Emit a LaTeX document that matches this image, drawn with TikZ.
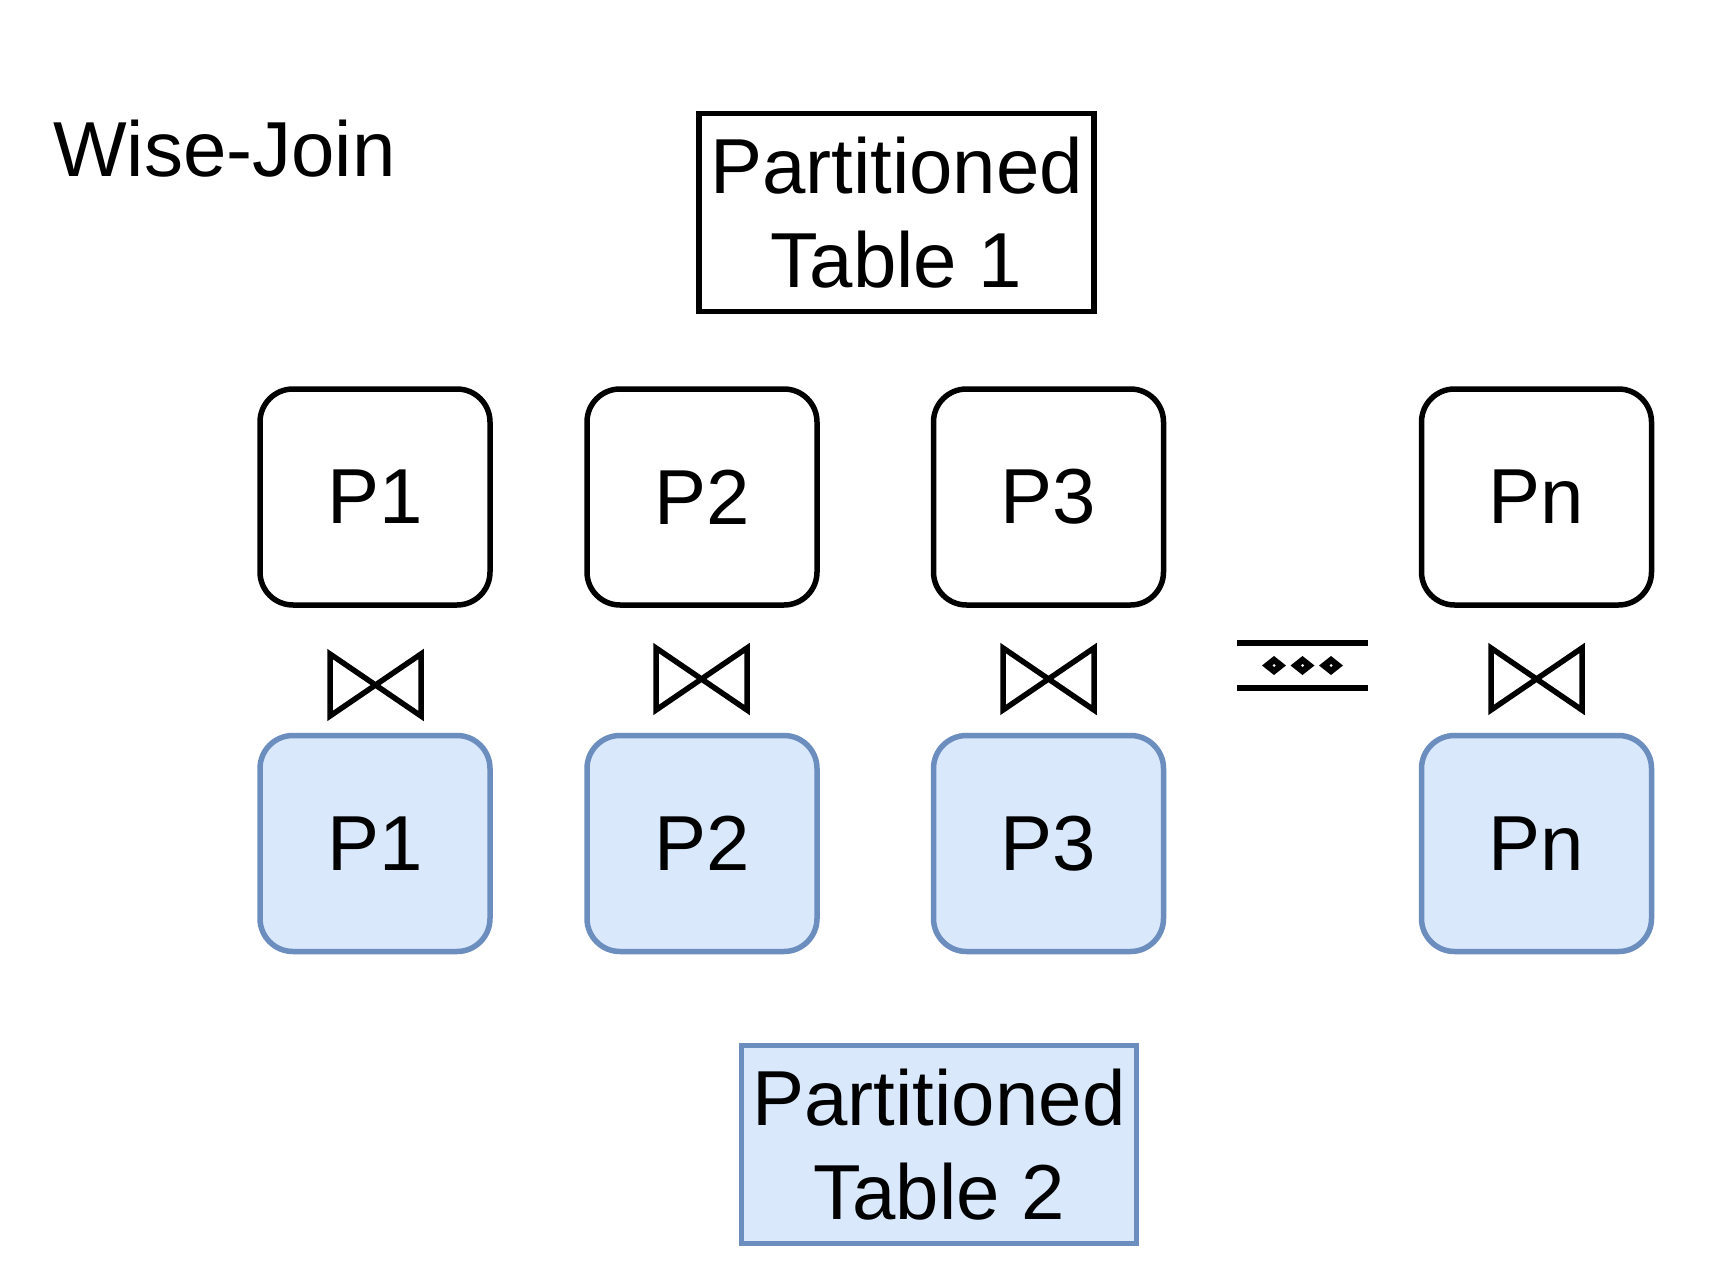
\documentclass[tikz,border=0pt]{standalone}
\usepackage{fontspec}
\setmainfont{Liberation Sans}
\definecolor{blueborder}{HTML}{6C8EBF}
\definecolor{bluefill}{HTML}{DAE8FC}
\begin{document}
\begin{tikzpicture}[x=1pt,y=-1pt,
  bigtext/.style={font=\fontsize{78}{94}\selectfont},
  part/.style={bigtext,draw=black,line width=5.5pt,rounded corners=33pt,minimum width=230pt,minimum height=216pt,inner sep=0pt,fill=white},
  partb/.style={part,draw=blueborder,fill=bluefill},
  tablebox/.style={bigtext,draw=black,line width=5.5pt,minimum width=395pt,minimum height=198pt,inner sep=0pt,align=center},
  tableboxb/.style={tablebox,draw=blueborder,fill=bluefill},
  bowtie/.style={line width=5.5pt,line join=miter},
  sepline/.style={line width=5.5pt}]
\path[use as bounding box,fill=white] (0,0) rectangle (1730,1284);

\node[bigtext,anchor=base west,inner sep=0pt] (title) at (53,177) {Wise-Join};

\node[tablebox] (t1) at (896.5,212.5) {Partitioned\\Table 1};
\node[tableboxb] (t2) at (939,1144.5) {Partitioned\\Table 2};

\node[part] (a1) at (375,497) {P1};
\node[part] (a2) at (702,497) {P2};
\node[part] (a3) at (1048.5,497) {P3};
\node[part] (an) at (1536.5,497) {Pn};

\node[partb] (b1) at (375,843.5) {P1};
\node[partb] (b2) at (702,843.5) {P2};
\node[partb] (b3) at (1048.5,843.5) {P3};
\node[partb] (bn) at (1536.5,843.5) {Pn};

% bowties
\draw[bowtie] (330,654) -- (421,716) -- (421,654) -- (330,716) -- cycle;
\draw[bowtie] (656,648) -- (747,710) -- (747,648) -- (656,710) -- cycle;
\draw[bowtie] (1003,648) -- (1094,710) -- (1094,648) -- (1003,710) -- cycle;
\draw[bowtie] (1491,648) -- (1582,710) -- (1582,648) -- (1491,710) -- cycle;

% ellipsis symbol
\coordinate (e1) at (1237,643);
\coordinate (e2) at (1368,643);
\coordinate (e3) at (1237,688);
\coordinate (e4) at (1368,688);
\draw[sepline] (e1) -- (e2);
\draw[sepline] (e3) -- (e4);
\foreach \xx in {1274,1302.5,1331}{
  \fill (\xx-12,665.5) -- (\xx,656) -- (\xx+12,665.5) -- (\xx,675) -- cycle;
  \fill[white] (\xx,665.5) circle (1.5pt);
}
\end{tikzpicture}
\end{document}
